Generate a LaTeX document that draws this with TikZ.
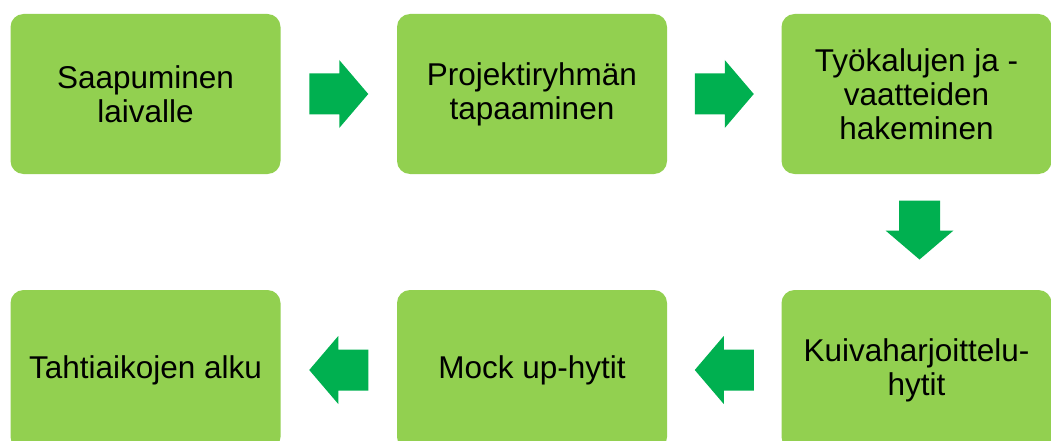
\documentclass[tikz,border=0pt]{standalone}
\usepackage{fontspec}
\setmainfont{Liberation Sans}
\usetikzlibrary{calc}
\definecolor{boxgreen}{HTML}{92D050}
\definecolor{arrowgreen}{HTML}{00B050}
\begin{document}
\begin{tikzpicture}[x=1pt,y=-1pt,
  stepbox/.style={rectangle, rounded corners=13pt, fill=boxgreen, draw=none,
    minimum width=270pt, minimum height=160pt, inner sep=0pt,
    align=center, font=\fontsize{31.5}{34}\selectfont},
  blockarrow/.pic={\fill[arrowgreen] (-29.5,-20.5) -- (0.5,-20.5) -- (0.5,-34)
    -- (29.5,0) -- (0.5,34) -- (0.5,20.5) -- (-29.5,20.5) -- cycle;}]
\useasboundingbox (0,0) rectangle (1051,441);
% top row
\node[stepbox] (b1) at (145.5,94) {Saapuminen\\laivalle};
\node[stepbox] (b2) at (532,94) {Projektiryhmän\\tapaaminen};
\node[stepbox] (b3) at (916.5,94) {Työkalujen ja -\\vaatteiden\\hakeminen};
% bottom row
\node[stepbox] (b6) at (145.5,370) {Tahtiaikojen alku};
\node[stepbox] (b5) at (532,370) {Mock up-hytit};
\node[stepbox] (b4) at (916.5,370) {Kuivaharjoittelu-\\hytit};
% block arrows between the steps
\pic at ($(b1.east)!0.5!(b2.west)$) {blockarrow};
\pic at ($(b2.east)!0.5!(b3.west)$) {blockarrow};
\pic[rotate=-90] at ($(b3.south)!0.5!(b4.north)+(3,-2)$) {blockarrow};
\pic[rotate=180] at ($(b4.west)!0.5!(b5.east)$) {blockarrow};
\pic[rotate=180] at ($(b5.west)!0.5!(b6.east)$) {blockarrow};
\end{tikzpicture}
\end{document}
